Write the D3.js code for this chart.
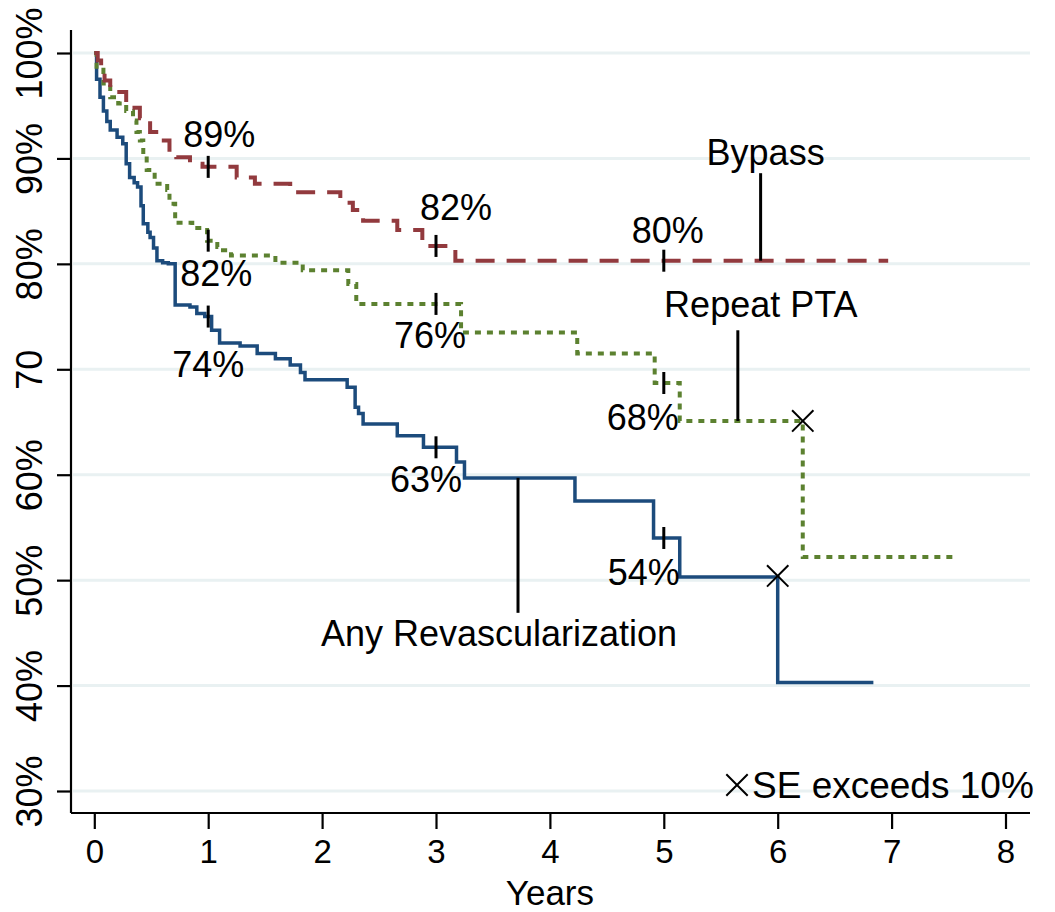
<!DOCTYPE html>
<html lang="en">
<head>
    <meta charset="UTF-8">
    <script src="https://d3js.org/d3.v7.min.js"></script>
    <title>Freedom from reintervention</title>
    <style>
        body { margin: 0; background: #fff; }
        text { font-family: "Liberation Sans", Arial, Helvetica, sans-serif; }
    </style>
</head>
<body>
    <svg id="svg"></svg>
    <script>
        // step data: [years, percent free]
        const anyRevasc = [
            [0,100],[0.02,97.5],[0.05,95.8],[0.08,94.5],[0.11,93.5],[0.14,92.7],[0.2,92],[0.25,91.4],
            [0.28,89.5],[0.31,88.2],[0.35,87.7],[0.38,87.3],[0.41,85.5],[0.43,83.8],[0.47,83],[0.49,82.5],
            [0.52,81.5],[0.55,80.3],[0.6,80.1],[0.65,80],[0.71,76.1],[0.84,75.9],[0.9,75.3],[0.97,75],
            [1.03,73.7],[1.1,72.5],[1.28,72.2],[1.43,71.5],[1.59,71],[1.72,70.4],[1.81,69.7],[1.85,69],
            [2.22,68.3],[2.29,66.4],[2.32,65.8],[2.36,64.8],[2.66,63.7],[2.89,62.6],[3.18,61.2],[3.25,59.7],
            [4.22,57.5],[4.91,54],[5.14,50.3],[6,40.3],[6.84,40.3]
        ];
        const bypass = [
            [0,100],[0.03,99.3],[0.06,98.5],[0.09,97.4],[0.14,96.3],[0.28,94.8],[0.4,93.8],[0.49,92.5],
            [0.58,91.7],[0.66,90.5],[0.72,90.1],[0.84,89.5],[0.95,89.2],[1.25,88.2],[1.41,87.6],[1.72,86.8],
            [2.16,85.8],[2.27,85.1],[2.36,84.1],[2.66,83.2],[2.88,81.7],[3.17,80.3],[6.97,80.3]
        ];
        const repeatPTA = [
            [0,100],[0.02,98.4],[0.08,97.1],[0.14,95.8],[0.21,95.2],[0.28,94.5],[0.34,93.6],[0.37,92.5],
            [0.4,91.7],[0.43,90.3],[0.46,88.9],[0.53,87.6],[0.64,87],[0.66,85.7],[0.71,83.9],[0.86,83.4],
            [0.96,83.2],[0.99,82.2],[1.08,81.6],[1.13,81.3],[1.2,80.8],[1.59,80.1],[1.83,79.4],[2.23,78.1],
            [2.3,76.2],[3.22,73.5],[4.24,71.5],[4.92,68.7],[5.14,65.1],[6.22,52.2],[7.58,52.2]
        ];
        // points where SE exceeds 10%
        const seMarks = [[6.0,50.4],[6.22,65.1]];
        // landmark estimates at 1, 3, 5 years
        const landmarks = [
            {series:"bypass", t:1, text:"89%"}, {series:"bypass", t:3, text:"82%"}, {series:"bypass", t:5, text:"80%"},
            {series:"pta", t:1, text:"82%"}, {series:"pta", t:3, text:"76%"}, {series:"pta", t:5, text:"68%"},
            {series:"any", t:1, text:"74%"}, {series:"any", t:3, text:"63%"}, {series:"any", t:5, text:"54%"}
        ];
        // text nudges for the landmark labels, px [dx, dy] from the tick
        const landmarkNudge = [[11,-20],[20,-26],[4,-18],[8,45],[-6,44],[-21,47],[0,60],[-10,45],[-20,47]];
        // curve name callouts: line from curve at t up/down to value end
        const callouts = [
            {series:"bypass", t:5.85, end:88.6, name:"Bypass"},
            {series:"pta", t:5.65, end:73.7, name:"Repeat PTA"},
            {series:"any", t:3.72, end:46.9, name:"Any Revascularization"}
        ];
        const calloutNudge = [[5,-8],[23,-13],[-19,33]];
        const xTicks = [0,1,2,3,4,5,6,7,8];
        const yTicks = [30,40,50,60,70,80,90,100];
        const yTickLabels = ["30%","40%","50%","60%","70","80%","90%","100%"];

        const width = 1055, height = 912;
        const svg = d3.select("#svg").attr("width", width).attr("height", height);

        const x = d3.scaleLinear().domain([0, 8]).range([94.3, 1005.5]);
        const y = d3.scaleLinear().domain([30, 100]).range([791, 53]);

        const series = {
            any:    {data: anyRevasc, color: "#1c4b7c", width: 3.5, dash: null},
            bypass: {data: bypass,    color: "#923a3e", width: 4,   dash: "19,12"},
            pta:    {data: repeatPTA, color: "#5c8130", width: 4,   dash: "6,6"}
        };
        const valueAt = (key, t) => {
            const d = series[key].data;
            const i = d3.bisectRight(d.map(p => p[0]), t) - 1;
            return d[Math.max(0, i)][1];
        };

        // grid
        svg.append("g").selectAll("line").data(yTicks).join("line")
            .attr("x1", 73).attr("x2", 1030)
            .attr("y1", d => y(d)).attr("y2", d => y(d))
            .attr("stroke", "#e9f1f2").attr("stroke-width", 3);

        // axes
        const yaxis = d3.axisLeft(y).tickValues(yTicks).tickSize(14).tickFormat((d, i) => yTickLabels[i]);
        svg.append("g").attr("transform", "translate(71,0)").call(yaxis)
            .call(g => g.select(".domain").attr("d", "M0,30V813").attr("stroke-width", 2.2))
            .call(g => g.selectAll(".tick line").attr("stroke-width", 2.2))
            .call(g => g.selectAll(".tick text")
                .attr("font-size", 36).attr("fill", "#000")
                .attr("text-anchor", "middle").attr("x", null).attr("dy", null)
                .attr("transform", "translate(-29,0) rotate(-90)"));

        const xaxis = d3.axisBottom(x).tickValues(xTicks).tickSize(16);
        svg.append("g").attr("transform", "translate(0,813)").call(xaxis)
            .call(g => g.select(".domain").attr("transform", "translate(94.3,0)")
                .attr("d", "M-23.3,0H935.7").attr("stroke-width", 2.2))
            .call(g => g.selectAll(".tick line").attr("stroke-width", 2.2))
            .call(g => g.selectAll(".tick text").attr("font-size", 33).attr("fill", "#000")
                .attr("y", 50).attr("dy", null));

        svg.append("text").attr("x", x(4)).attr("y", 905).attr("text-anchor", "middle")
            .attr("font-size", 35).text("Years");

        // curves
        const line = d3.line().x(d => x(d[0])).y(d => y(d[1])).curve(d3.curveStepAfter);
        ["any", "pta", "bypass"].forEach(k => {
            const s = series[k];
            svg.append("path").attr("d", line(s.data)).attr("fill", "none")
                .attr("stroke", s.color).attr("stroke-width", s.width)
                .attr("stroke-dasharray", s.dash);
        });

        // landmark ticks and labels
        landmarks.forEach((d, i) => {
            const cx = x(d.t), cy = y(valueAt(d.series, d.t));
            svg.append("line").attr("x1", cx).attr("x2", cx).attr("y1", cy - 11).attr("y2", cy + 11)
                .attr("stroke", "#000").attr("stroke-width", 3);
            svg.append("text").attr("x", cx + landmarkNudge[i][0]).attr("y", cy + landmarkNudge[i][1])
                .attr("text-anchor", "middle").attr("font-size", 36).text(d.text);
        });

        // callouts
        callouts.forEach((d, i) => {
            const cx = x(d.t), y0 = y(valueAt(d.series, d.t)), y1 = y(d.end);
            svg.append("line").attr("x1", cx).attr("x2", cx).attr("y1", y0).attr("y2", y1)
                .attr("stroke", "#000").attr("stroke-width", 3);
            svg.append("text").attr("x", cx + calloutNudge[i][0]).attr("y", y1 + calloutNudge[i][1])
                .attr("text-anchor", "middle").attr("font-size", 36).text(d.name);
        });

        // SE markers
        const cross = d3.symbol().type(d3.symbolX).size(300);
        svg.append("g").selectAll("path").data(seMarks).join("path")
            .attr("transform", d => `translate(${x(d[0])},${y(d[1])})`)
            .attr("d", cross).attr("fill", "none").attr("stroke", "#000").attr("stroke-width", 2);

        // legend
        svg.append("path").attr("transform", "translate(737,785)").attr("d", cross)
            .attr("fill", "none").attr("stroke", "#000").attr("stroke-width", 2);
        svg.append("text").attr("x", 752).attr("y", 798).attr("font-size", 37).text("SE exceeds 10%");
    </script>
</body>
</html>
